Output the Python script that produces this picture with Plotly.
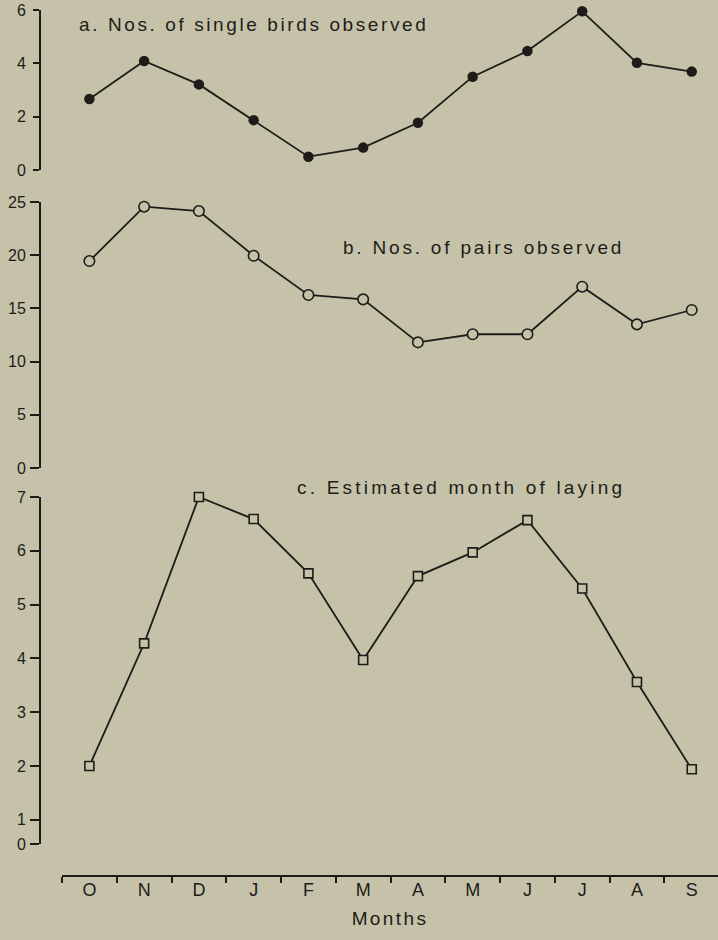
import plotly.graph_objects as go

# Monthly survey figures, October to September
months = ["O", "N", "D", "J", "F", "M", "A", "M", "J", "J", "A", "S"]
single_birds = [2.66, 4.09, 3.21, 1.87, 0.50, 0.84, 1.77, 3.50, 4.46, 5.95, 4.02, 3.69]
pairs = [19.45, 24.56, 24.15, 19.95, 16.26, 15.85, 11.81, 12.57, 12.57, 17.04, 13.50, 14.85]
laying = [2.00, 4.28, 7.00, 6.59, 5.58, 3.97, 5.53, 5.97, 6.57, 5.30, 3.56, 1.94]

ticks_a = [0, 2, 4, 6]
ticks_b = [0, 5, 10, 15, 20, 25]
ticks_c = [0.55, 1, 2, 3, 4, 5, 6, 7]
ticktext_c = ["0", "1", "2", "3", "4", "5", "6", "7"]

BG = "#c6c2a9"
INK = "#1e1c18"
FONT = "Liberation Sans, Arial, Helvetica, sans-serif"
W, H = 718, 940


def spaced(text, px=2.7):
    return f'<span style="letter-spacing:{px}px">{text}</span>'


x = list(range(len(months)))

fig = go.Figure()

fig.add_trace(go.Scatter(
    x=x, y=single_birds, xaxis="x3", yaxis="y3", mode="lines+markers",
    line=dict(color=INK, width=1.8),
    marker=dict(symbol="circle", size=10.5, color=INK),
    cliponaxis=False, showlegend=False))

fig.add_trace(go.Scatter(
    x=x, y=pairs, xaxis="x2", yaxis="y2", mode="lines+markers",
    line=dict(color=INK, width=1.8),
    marker=dict(symbol="circle", size=10.5, color=BG, line=dict(color=INK, width=1.6)),
    cliponaxis=False, showlegend=False))

fig.add_trace(go.Scatter(
    x=x, y=laying, xaxis="x", yaxis="y", mode="lines+markers",
    line=dict(color=INK, width=1.8),
    marker=dict(symbol="square", size=9, color=BG, line=dict(color=INK, width=1.6)),
    cliponaxis=False, showlegend=False))


def px_y(top, bottom):
    return [1 - bottom / H, 1 - top / H]


xdom = [62 / W, 1.0]
yaxis_common = dict(
    anchor="free", position=40 / W, showline=True, linewidth=2, linecolor=INK,
    ticks="outside", tickwidth=2, tickcolor=INK, showgrid=False, zeroline=False,
    tickfont=dict(family=FONT, size=16, color=INK), fixedrange=True,
    automargin=False,
)

fig.update_layout(
    width=W, height=H,
    margin=dict(l=0, r=0, t=0, b=0, autoexpand=False),
    paper_bgcolor=BG, plot_bgcolor=BG,
    xaxis=dict(
        domain=xdom, range=[-0.5, 11.48], anchor="free", position=1 - 876 / H,
        showline=True, linewidth=2, linecolor=INK, showgrid=False, zeroline=False,
        tickmode="array", tickvals=x, ticktext=months, ticks="", automargin=False,
        tickfont=dict(family=FONT, size=18, color=INK), ticklabelstandoff=-3,
        minor=dict(tickmode="array", tickvals=[i - 0.5 for i in range(13)],
                   ticks="outside", ticklen=6, tickwidth=2, tickcolor=INK),
        title=dict(text=spaced("Months", 2.4),
                   font=dict(family=FONT, size=19, color=INK), standoff=12),
    ),
    xaxis2=dict(domain=xdom, matches="x", visible=False, anchor="y2"),
    xaxis3=dict(domain=xdom, matches="x", visible=False, anchor="y3"),
    yaxis=dict(domain=px_y(497, 844), range=[0.55, 7], tickmode="array",
               tickvals=ticks_c, ticktext=ticktext_c, ticklen=9,
               ticklabelstandoff=1, **yaxis_common),
    yaxis2=dict(domain=px_y(202, 468), range=[0, 25], tickmode="array",
                tickvals=ticks_b, ticklen=9, ticklabelstandoff=1, **yaxis_common),
    yaxis3=dict(domain=px_y(10, 170), range=[0, 6], tickmode="array",
                tickvals=ticks_a, ticklen=6, ticklabelstandoff=4, **yaxis_common),
)

titles = [
    ("a. Nos. of single birds observed", 77, 24, 2.6),
    ("b. Nos. of pairs observed", 341, 248, 2.8),
    ("c. Estimated month of laying", 295, 487, 3.2),
]
for text, tx, ty, track in titles:
    fig.add_annotation(
        text=spaced(text, track), xref="paper", yref="paper", x=tx / W, y=1 - ty / H,
        xanchor="left", yanchor="middle", showarrow=False,
        font=dict(family=FONT, size=19, color=INK))

fig.write_html("out.html")
